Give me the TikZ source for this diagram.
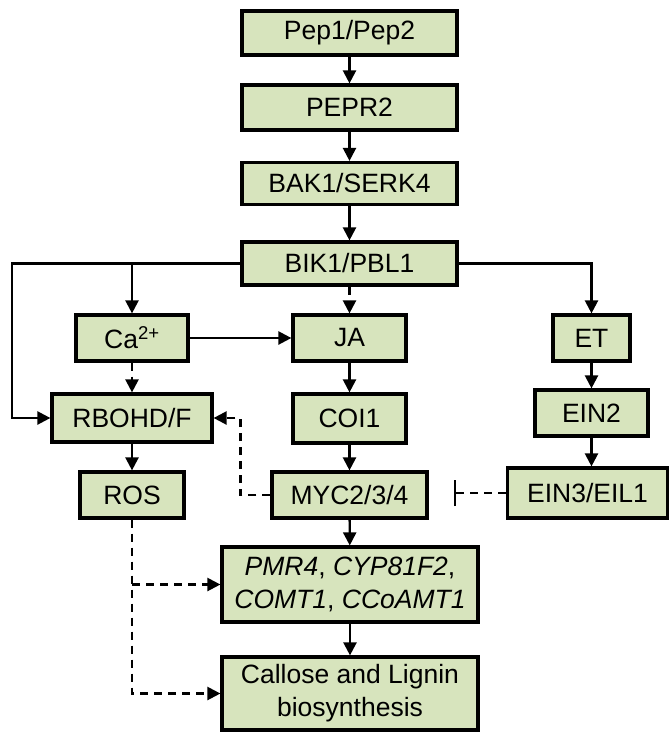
\documentclass[tikz,border=0pt]{standalone}
\usepackage{fontspec}
\setmainfont{Liberation Sans}
\usetikzlibrary{arrows.meta}

\definecolor{boxgreen}{HTML}{D7E4BD}

\begin{document}
\begin{tikzpicture}[x=1pt,y=-1pt,
    box/.style={draw,line width=3.2pt,fill=boxgreen,inner sep=0pt,align=center,
        font=\fontsize{26.5}{33}\selectfont},
    arr/.style={line width=2.3pt,-{Triangle[width=13pt,length=13pt]}},
    darr/.style={arr,dash pattern=on 8pt off 6pt},
    inh/.style={line width=2.3pt,dash pattern=on 8pt off 6pt,-{Bar[width=26pt]}}]
    \useasboundingbox (0,0) rectangle (671,732);

    % Main column
    \node[box,minimum width=215pt,minimum height=44pt] (pep) at (349.5,33) {Pep1/Pep2};
    \node[box,minimum width=215pt,minimum height=45pt] (pepr) at (349.5,107.5) {PEPR2};
    \node[box,minimum width=215pt,minimum height=42pt] (bak) at (349.5,183.5) {BAK1/SERK4};
    \node[box,minimum width=215pt,minimum height=43pt] (bik) at (349.5,263.5) {BIK1/PBL1};

    % Left branch
    \node[box,minimum width=112pt,minimum height=46pt] (ca) at (132,338) {Ca\textsuperscript{2+}};
    \node[box,minimum width=160pt,minimum height=48pt] (rboh) at (132,418) {RBOHD/F};
    \node[box,minimum width=104pt,minimum height=46pt] (ros) at (132,495) {ROS};

    % JA branch
    \node[box,minimum width=113pt,minimum height=46pt] (ja) at (349.5,338) {JA};
    \node[box,minimum width=113pt,minimum height=49pt] (coi) at (349.5,418.5) {COI1};
    \node[box,minimum width=155pt,minimum height=46pt] (myc) at (349.5,495) {MYC2/3/4};

    % ET branch
    \node[box,minimum width=77pt,minimum height=46pt] (et) at (591.5,338) {ET};
    \node[box,minimum width=113pt,minimum height=46pt] (ein2) at (591.5,413) {EIN2};
    \node[box,minimum width=160pt,minimum height=50pt] (ein3) at (587.5,493) {EIN3/EIL1};

    % Outputs
    \node[box,minimum width=256pt,minimum height=75pt] (pmr) at (350,584.5)
        {\textit{PMR4}, \textit{CYP81F2},\\\textit{COMT1}, \textit{CCoAMT1}};
    \node[box,minimum width=256pt,minimum height=73pt] (cal) at (350,693.5)
        {Callose and Lignin\\biosynthesis};

    \coordinate (lft) at (12,263.5);

    % Arrows
    \draw[arr] (pep) -- (pepr);
    \draw[arr] (pepr) -- (bak);
    \draw[arr] (bak) -- (bik);
    \draw[darr] (bik) -- (ja);
    \draw[arr] (bik.west) -- (lft) |- (rboh.west);
    \draw[arr] (bik.west -| ca.north) -- (ca);
    \draw[arr] (bik.east) -| (et);
    \draw[arr] (ca) -- (ja);
    \draw[darr] (ca) -- (rboh);
    \draw[arr] (rboh) -- (ros);
    \draw[arr] (ja) -- (coi);
    \draw[arr] (coi) -- (myc);
    \draw[arr] (et) -- (ein2);
    \draw[arr] (ein2) -- (ein3.north -| ein2.south);
    \draw[darr] (myc.west) -- ++(-30,0) |- (rboh.east);
    \draw[inh] (ein3.west) -- ++(-52,0);
    \draw[arr] (myc) -- (pmr);
    \draw[arr] (pmr) -- (cal);
    \draw[darr] (ros.south) |- (cal.west);
    \draw[darr] (ros.south |- pmr.west) -- (pmr.west);
\end{tikzpicture}
\end{document}
